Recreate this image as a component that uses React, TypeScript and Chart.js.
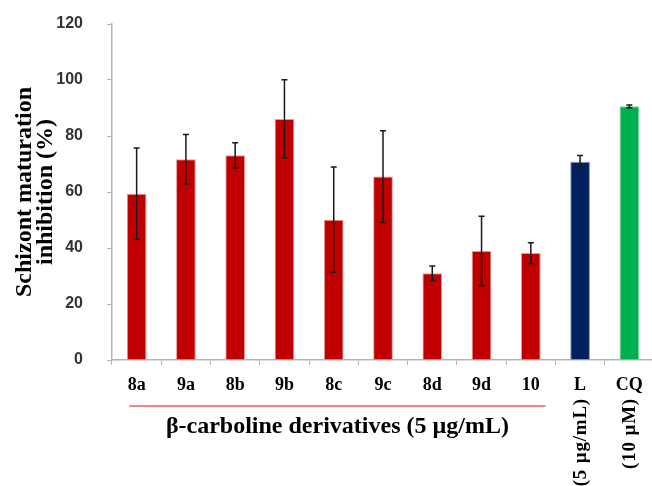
import React, { useEffect, useRef } from 'react';
import { Chart, registerables } from 'chart.js';

Chart.register(...registerables);

// ---- data ----
const categories = ['8a', '9a', '8b', '9b', '8c', '9c', '8d', '9d', '10', 'L', 'CQ'];
const subLabels = ['', '', '', '', '', '', '', '', '', '(5 µg/mL)', '(10 µM)'];
const values = [59.4, 71.7, 73.1, 86.1, 50.1, 65.5, 31.0, 38.9, 38.2, 70.8, 90.6];
const errors = [16.3, 8.8, 4.5, 14.0, 18.8, 16.4, 2.6, 12.4, 3.7, 2.2, 0.5];
const yMin = 0;
const yMax = 120;
const yStep = 20;
const yTitle = ['Schizont maturation', 'inhibition (%)'];
const groupLabel = 'β-carboline derivatives (5 µg/mL)';
const groupFirst = 0;
const groupLast = 8;

// ---- styles ----
const RED = '#C00000';
const NAVY = '#002060';
const GREEN = '#00B050';
const barColors = categories.map((c, i) => (i === 9 ? NAVY : i === 10 ? GREEN : RED));
const barBorders = categories.map((c, i) => (i === 9 ? '#8a96b8' : i === 10 ? '#7fd7a7' : '#e49a9a'));
const AXIS = '#b4b4b4';
const SERIF = '"Liberation Serif", "Times New Roman", serif';
const SANS = '"Liberation Sans", Arial, sans-serif';

const extrasPlugin = {
  id: 'extras',
  afterDatasetsDraw(chart: any) {
    const ctx = chart.ctx;
    const y = chart.scales.y;
    const meta = chart.getDatasetMeta(0);
    ctx.save();
    ctx.strokeStyle = '#1a1a1a';
    ctx.lineWidth = 1.5;
    meta.data.forEach((bar: any, i: number) => {
      const x = bar.x;
      const top = y.getPixelForValue(values[i] + errors[i]);
      const bot = y.getPixelForValue(values[i] - errors[i]);
      ctx.beginPath();
      ctx.moveTo(x, top);
      ctx.lineTo(x, bot);
      ctx.moveTo(x - 3, top);
      ctx.lineTo(x + 3, top);
      ctx.moveTo(x - 3, bot);
      ctx.lineTo(x + 3, bot);
      ctx.stroke();
    });
    ctx.restore();
  },
  afterDraw(chart: any) {
    const ctx = chart.ctx;
    const xs = chart.scales.x;
    const bottom = chart.chartArea.bottom;
    const w = xs.getPixelForValue(1) - xs.getPixelForValue(0);

    // rotated sub labels
    ctx.save();
    ctx.fillStyle = '#000';
    ctx.font = `bold 19px ${SERIF}`;
    try { (ctx as any).letterSpacing = '0.8px'; } catch (e) {}
    subLabels.forEach((t, i) => {
      if (!t) return;
      const x = xs.getPixelForValue(i);
      ctx.save();
      ctx.translate(x + 1, bottom + 38);
      ctx.rotate(-Math.PI / 2);
      ctx.textAlign = 'right';
      ctx.textBaseline = 'middle';
      ctx.fillText(t, 0, 0);
      ctx.restore();
    });
    ctx.restore();

    // group bracket line
    const x0 = xs.getPixelForValue(groupFirst) - 0.15 * w;
    const x1 = xs.getPixelForValue(groupLast) + 0.3 * w;
    ctx.save();
    ctx.strokeStyle = '#e06060';
    ctx.lineWidth = 1.5;
    ctx.beginPath();
    ctx.moveTo(x0, bottom + 46);
    ctx.lineTo(x1, bottom + 46);
    ctx.stroke();
    ctx.fillStyle = '#000';
    ctx.font = `bold 24px ${SERIF}`;
    ctx.textAlign = 'center';
    ctx.textBaseline = 'alphabetic';
    ctx.fillText(groupLabel, (x0 + x1) / 2, bottom + 73);
    ctx.restore();
  },
};

export default function App() {
  const ref = useRef<HTMLCanvasElement>(null);
  useEffect(() => {
    if (!ref.current) return;
    const chart = new Chart(ref.current, {
      type: 'bar',
      data: {
        labels: categories,
        datasets: [
          {
            data: values,
            backgroundColor: barColors,
            borderColor: barBorders,
            borderWidth: 1,
            barPercentage: 1,
            categoryPercentage: 0.4,
          },
        ],
      },
      options: {
        animation: false,
        responsive: false,
        devicePixelRatio: 1,
        layout: { padding: { top: 24, left: 0, right: 0, bottom: 0 } },
        plugins: {
          legend: { display: false },
          tooltip: { enabled: false },
        },
        scales: {
          x: {
            grid: {
              display: true,
              drawOnChartArea: false,
              drawTicks: true,
              tickLength: 5,
              color: AXIS,
              offset: true,
            },
            border: { display: true, color: AXIS, width: 1.5 },
            ticks: {
              color: '#000',
              font: { family: SERIF, weight: 'bold', size: 18 },
              padding: 10,
              maxRotation: 0,
              autoSkip: false,
            },
            afterFit: (s: any) => {
              s.height = 126;
              s.paddingLeft = 0;
              s.paddingRight = 0;
            },
          },
          y: {
            min: yMin,
            max: yMax,
            grid: {
              display: true,
              drawOnChartArea: false,
              drawTicks: true,
              tickLength: 5,
              color: AXIS,
            },
            border: { display: true, color: AXIS, width: 1.5 },
            ticks: {
              stepSize: yStep,
              color: '#333',
              font: { family: SANS, weight: 'bold', size: 16 },
              padding: 24,
            },
            title: {
              display: true,
              text: yTitle,
              color: '#000',
              font: { family: SERIF, weight: 'bold', size: 24, lineHeight: 0.88 },
              padding: { top: 14, bottom: 0 },
            },
            afterFit: (s: any) => {
              s.width = 112;
              s.paddingTop = 10;
              s.paddingBottom = 10;
            },
          },
        },
      },
      plugins: [extrasPlugin],
    });
    return () => chart.destroy();
  }, []);

  return (
    <div
      style={{
        position: 'fixed',
        left: 0,
        top: 0,
        width: 652,
        height: 486,
        overflow: 'hidden',
        background: '#fff',
      }}
    >
      <canvas ref={ref} width={654} height={486} style={{ width: 654, height: 486, display: 'block' }} />
    </div>
  );
}
